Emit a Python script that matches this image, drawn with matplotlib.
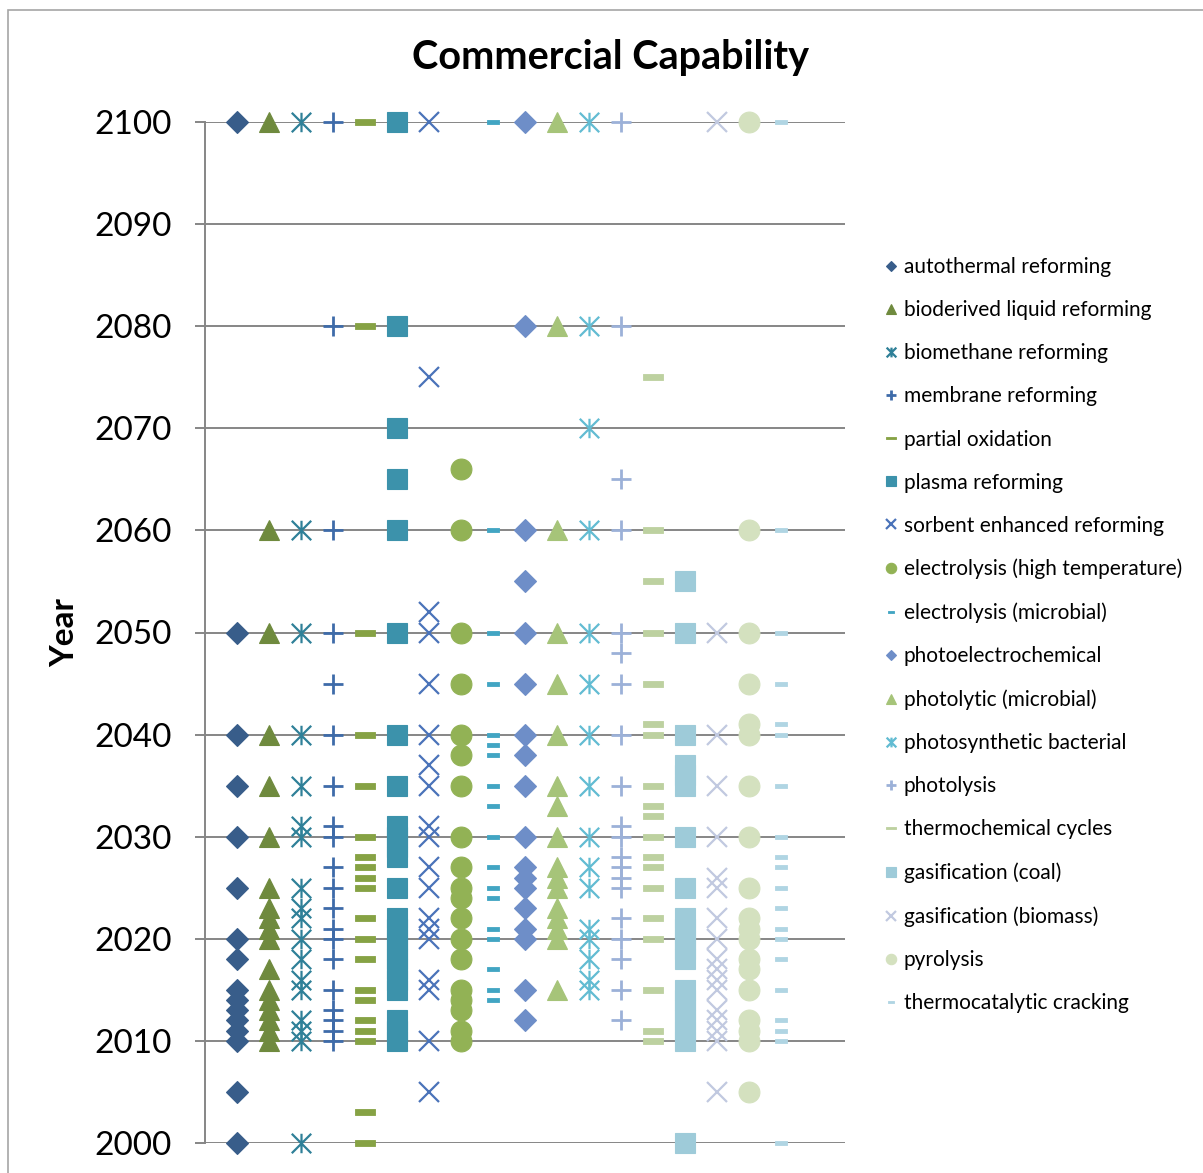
import matplotlib
matplotlib.use("Agg")
import matplotlib.pyplot as plt
from matplotlib.path import Path
from matplotlib.patches import Rectangle

plt.rcParams["font.family"] = ["Lato", "DejaVu Sans"]

# years at which each technology reaches commercial capability
autothermal = [2100, 2050, 2040, 2035, 2030, 2025, 2020, 2018, 2015, 2014, 2013, 2012, 2011, 2010, 2005, 2000]
bioderived = [2100, 2060, 2050, 2040, 2035, 2030, 2025, 2023, 2022, 2021, 2020, 2017, 2015, 2014, 2013, 2012, 2011, 2010]
biomethane = [2100, 2060, 2050, 2040, 2035, 2031, 2030, 2025, 2023, 2022, 2020, 2018, 2016, 2015, 2012, 2011, 2010, 2000]
membrane = [2100, 2080, 2060, 2050, 2045, 2040, 2035, 2031, 2030, 2027, 2025, 2023, 2021, 2020, 2018, 2015, 2013, 2012, 2011, 2010]
partial_oxidation = [2100, 2080, 2050, 2040, 2035, 2030, 2028, 2027, 2026, 2025, 2022, 2020, 2018, 2015, 2014, 2012, 2011, 2010, 2003, 2000]
plasma = [2100, 2080, 2070, 2065, 2060, 2050, 2040, 2035, 2031, 2030, 2029, 2028, 2025, 2022, 2021, 2020, 2019, 2018, 2017, 2016, 2015, 2012, 2011, 2010]
sorbent = [2100, 2075, 2052, 2050, 2045, 2040, 2037, 2035, 2031, 2030, 2027, 2025, 2022, 2021, 2020, 2016, 2015, 2010, 2005]
electrolysis_ht = [2066, 2060, 2050, 2045, 2040, 2038, 2035, 2030, 2027, 2025, 2024, 2022, 2020, 2018, 2015, 2014, 2013, 2011, 2010]
electrolysis_mic = [2100, 2060, 2050, 2045, 2040, 2039, 2038, 2035, 2033, 2030, 2027, 2025, 2024, 2021, 2020, 2017, 2015, 2014]
photoelectrochem = [2100, 2080, 2060, 2055, 2050, 2045, 2040, 2038, 2035, 2030, 2027, 2026, 2025, 2023, 2021, 2020, 2015, 2012]
photolytic_mic = [2100, 2080, 2060, 2050, 2045, 2040, 2035, 2033, 2030, 2027, 2026, 2025, 2023, 2022, 2021, 2020, 2015]
photosynthetic = [2100, 2080, 2070, 2060, 2050, 2045, 2040, 2035, 2030, 2027, 2025, 2021, 2020, 2018, 2016, 2015]
photolysis = [2100, 2080, 2065, 2060, 2050, 2048, 2045, 2040, 2035, 2031, 2030, 2028, 2027, 2026, 2025, 2022, 2020, 2018, 2015, 2012]
thermochemical = [2075, 2060, 2055, 2050, 2045, 2041, 2040, 2035, 2033, 2032, 2030, 2028, 2027, 2025, 2022, 2020, 2015, 2011, 2010]
gasif_coal = [2055, 2050, 2040, 2037, 2036, 2035, 2030, 2025, 2022, 2021, 2020, 2019, 2018, 2015, 2014, 2013, 2012, 2011, 2010, 2000]
gasif_biomass = [2100, 2050, 2040, 2035, 2030, 2026, 2025, 2022, 2020, 2018, 2017, 2016, 2015, 2013, 2012, 2011, 2010, 2005]
pyrolysis = [2100, 2060, 2050, 2045, 2041, 2040, 2035, 2030, 2025, 2022, 2021, 2020, 2018, 2017, 2015, 2012, 2011, 2010, 2005]
thermocatalytic = [2100, 2060, 2050, 2045, 2041, 2040, 2035, 2030, 2028, 2027, 2025, 2023, 2021, 2020, 2018, 2015, 2012, 2011, 2010, 2000]

labels = [
    "autothermal reforming", "bioderived liquid reforming", "biomethane reforming",
    "membrane reforming", "partial oxidation", "plasma reforming",
    "sorbent enhanced reforming", "electrolysis (high temperature)", "electrolysis (microbial)",
    "photoelectrochemical", "photolytic (microbial)", "photosynthetic bacterial",
    "photolysis", "thermochemical cycles", "gasification (coal)",
    "gasification (biomass)", "pyrolysis", "thermocatalytic cracking",
]
year_lists = [
    autothermal, bioderived, biomethane, membrane, partial_oxidation, plasma,
    sorbent, electrolysis_ht, electrolysis_mic, photoelectrochem, photolytic_mic, photosynthetic,
    photolysis, thermochemical, gasif_coal, gasif_biomass, pyrolysis, thermocatalytic,
]
colors = [
    "#385D8A", "#6F8A3E", "#2F8098", "#3E6BA9", "#86A244", "#3C92AB",
    "#4A73B9", "#92B255", "#42A5C3", "#6E8EC8", "#A6C479", "#62BCD2",
    "#9CB1D8", "#BDD1A0", "#9ECBD9", "#C1C9E0", "#D4E1BF", "#B0D5E3",
]

STAR = Path([(0, -1), (0, 1), (-1, -1), (1, 1), (-1, 1), (1, -1)],
            [Path.MOVETO, Path.LINETO] * 3)
DASH = Path([(-1, -0.28), (1, -0.28), (1, 0.28), (-1, 0.28), (-1, -0.28)],
            [Path.MOVETO, Path.LINETO, Path.LINETO, Path.LINETO, Path.CLOSEPOLY])
# marker, size, edge width, filled
styles = [
    ("D", 10.7, 0.8, True), ("^", 15, 0.8, True), (STAR, 14, 1.6, False),
    ("+", 14, 2.0, False), (DASH, 15, 0.6, True), ("s", 15, 0.8, True),
    ("x", 14, 1.6, False), ("o", 15, 0.8, True), (DASH, 9, 0.6, True),
] * 2

fig = plt.figure(figsize=(12.03, 11.73), dpi=100)
fig.patches.append(Rectangle((8 / 1203, -0.05), 1.2, 1 - 10 / 1173 + 0.05,
                             transform=fig.transFigure, fill=False,
                             edgecolor="#A6A6A6", linewidth=1.2))

ax = fig.add_axes([205 / 1203, 1 - 1143 / 1173, 640 / 1203, (1143 - 122) / 1173])
ax.set_xlim(0, 20)
ax.set_ylim(2000, 2100)

for i, (name, years, color, style) in enumerate(zip(labels, year_lists, colors, styles)):
    marker, ms, mew, filled = style
    ax.plot([i + 1] * len(years), years, linestyle="none", marker=marker, ms=ms,
            mew=mew, color=color, mec=color, mfc=color if filled else "none",
            clip_on=False, zorder=3, label=name)

ax.set_yticks(range(2000, 2101, 10))
ax.set_xticks([])
ax.tick_params(axis="y", labelsize=24, length=7, width=1.4, color="#868686", pad=17)
ax.grid(axis="y", color="#868686", linewidth=1.4, zorder=0)
ax.set_axisbelow(True)
for side in ("top", "right", "bottom"):
    ax.spines[side].set_visible(False)
ax.spines["left"].set_color("#868686")
ax.spines["left"].set_linewidth(1.4)

fig.text(610 / 1203, 1 - 58 / 1173, "Commercial Capability", ha="center", va="center",
         fontsize=28.5, fontweight="bold")
fig.text(65 / 1203, 1 - 633 / 1173, "Year", ha="center", va="center", rotation=90,
         fontsize=24, fontweight="bold")

ax.legend(loc="upper left", bbox_to_anchor=(885 / 1203, 1 - 257 / 1173),
          bbox_transform=fig.transFigure, frameon=False, fontsize=15,
          markerscale=0.5, handlelength=0.6, handletextpad=0.3,
          labelspacing=1.11, borderpad=0, borderaxespad=0)

fig.savefig("out.png", dpi=100)
